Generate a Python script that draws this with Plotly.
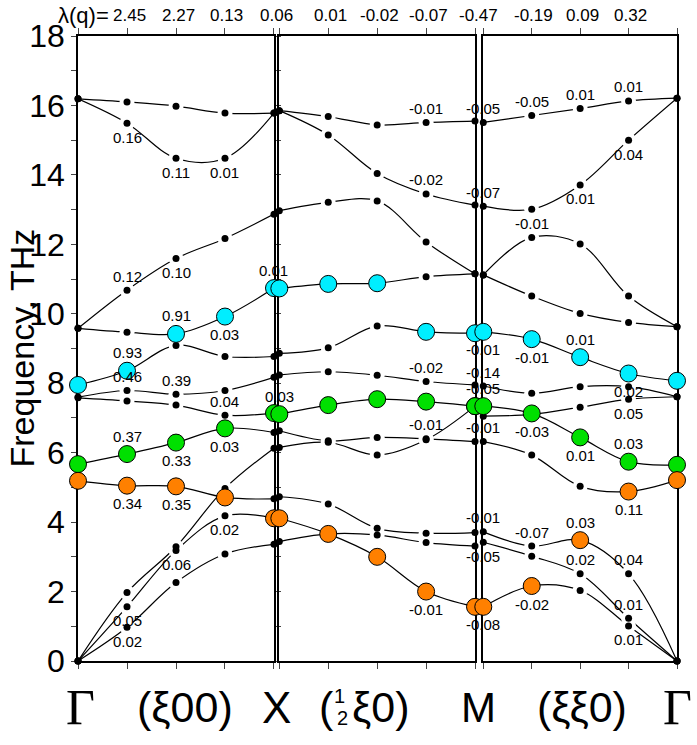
import plotly.graph_objects as go

Q = [0, 1, 2, 3, 4]

# phonon branches, THz, at the five q-points of each segment
gx_freq = [
    [0.00, 0.97, 2.26, 3.08, 3.36],
    [0.00, 1.56, 3.18, 4.18, 4.11],
    [0.00, 1.97, 3.29, 4.97, 6.13],
    [5.19, 5.05, 5.03, 4.71, 4.67],
    [5.67, 5.96, 6.29, 6.70, 6.58],
    [7.58, 7.49, 7.37, 7.08, 7.14],
    [7.60, 7.79, 7.68, 7.79, 8.17],
    [7.95, 8.36, 9.09, 8.77, 8.77],
    [9.58, 9.47, 9.42, 9.92, 10.74],
    [9.58, 10.68, 11.59, 12.17, 12.87],
    [16.19, 15.49, 14.48, 14.48, 15.78],
    [16.19, 16.10, 15.98, 15.78, 15.78],
]
gx_kind = ["kkkkk", "kkkko", "kkkkk", "ooook", "ggggk", "kkkkg",
           "kkkkk", "cckkk", "kkccc", "kkkkk", "kkkkk", "kkkkk"]

xm_freq = [
    [3.44, 3.66, 3.63, 3.41, 3.31],
    [4.11, 3.66, 3.00, 2.00, 1.56],
    [4.73, 4.52, 3.82, 3.68, 3.70],
    [6.15, 6.30, 5.93, 6.37, 7.34],
    [6.63, 6.34, 6.44, 6.40, 6.32],
    [7.11, 7.37, 7.54, 7.47, 7.34],
    [8.24, 8.33, 8.23, 8.05, 7.95],
    [8.86, 9.02, 9.65, 9.48, 9.44],
    [10.73, 10.86, 10.88, 11.07, 11.15],
    [12.97, 13.21, 13.25, 12.07, 11.15],
    [15.85, 15.15, 14.04, 13.45, 13.13],
    [15.85, 15.68, 15.44, 15.51, 15.55],
]
xm_kind = ["kkkkk", "ooooo", "kkkkk", "kkkkg", "kkkkk", "ggggg",
           "kkkkk", "kkkcc", "ccckk", "kkkkk", "kkkkk", "kkkkk"]

mg_freq = [
    [15.51, 15.71, 15.91, 16.13, 16.21],
    [13.10, 13.01, 13.71, 15.00, 16.21],
    [11.12, 12.20, 12.01, 10.51, 9.63],
    [11.12, 10.51, 10.01, 9.75, 9.63],
    [9.48, 9.27, 8.75, 8.28, 8.07],
    [7.92, 7.71, 7.90, 7.90, 7.61],
    [7.05, 7.10, 7.31, 7.54, 7.61],
    [7.34, 7.13, 6.44, 5.74, 5.65],
    [6.32, 5.93, 5.03, 4.88, 5.21],
    [3.72, 3.31, 3.48, 2.51, 0.00],
    [3.42, 3.02, 2.51, 1.23, 0.00],
    [1.56, 2.16, 2.03, 1.01, 0.00],
]
mg_kind = ["kkkkk", "kkkkk", "kkkkk", "kkkkk", "ccccc", "kkkkk",
           "kkkkk", "ggggg", "kkkoo", "kkokk", "kkkkk", "ookkk"]

panels = [(gx_freq, gx_kind), (xm_freq, xm_kind), (mg_freq, mg_kind)]

# mode lambdas: (panel, q, branch, text, side) side 1 = above, -1 = below
mode_lam = [
    (0, 1, 10, "0.16", -1), (0, 2, 10, "0.11", -1), (0, 3, 10, "0.01", -1),
    (0, 1, 9, "0.12", 1), (0, 2, 9, "0.10", -1),
    (0, 2, 8, "0.91", 1), (0, 3, 8, "0.03", -1), (0, 1, 7, "0.93", 1),
    (0, 1, 6, "0.46", 1), (0, 2, 6, "0.39", 1), (0, 3, 5, "0.04", 1),
    (0, 4, 8, "0.01", 1), (1, 0, 5, "0.03", 1),
    (0, 1, 4, "0.37", 1), (0, 2, 4, "0.33", -1), (0, 3, 4, "0.03", -1),
    (0, 1, 3, "0.34", -1), (0, 2, 3, "0.35", -1), (0, 3, 1, "0.02", -1),
    (0, 2, 1, "0.06", -1), (0, 1, 1, "0.05", -1), (0, 1, 0, "0.02", -1),
    (1, 3, 11, "-0.01", 1), (1, 3, 10, "-0.02", 1), (1, 3, 6, "-0.02", 1),
    (1, 3, 4, "-0.01", 1), (1, 3, 1, "-0.01", -1),
    (2, 0, 0, "-0.05", 1), (2, 0, 1, "-0.07", 1), (2, 0, 4, "-0.01", -1),
    (2, 0, 5, "-0.14", 1), (2, 0, 7, "-0.05", 1), (2, 0, 8, "-0.01", 1),
    (2, 0, 9, "-0.01", 1), (2, 0, 10, "-0.05", -1), (2, 0, 11, "-0.08", -1),
    (2, 1, 0, "-0.05", 1), (2, 2, 0, "0.01", 1), (2, 3, 0, "0.01", 1),
    (2, 3, 1, "0.04", -1), (2, 2, 1, "0.01", -1), (2, 1, 2, "-0.01", 1),
    (2, 1, 4, "-0.01", -1), (2, 2, 4, "0.01", 1), (2, 3, 4, "0.02", -1),
    (2, 3, 6, "0.05", -1), (2, 1, 7, "-0.03", -1), (2, 2, 7, "0.01", -1),
    (2, 3, 7, "0.03", 1), (2, 3, 8, "0.11", -1),
    (2, 1, 9, "-0.07", 1), (2, 2, 9, "0.03", 1), (2, 2, 10, "0.02", 1),
    (2, 3, 9, "0.04", 1), (2, 1, 11, "-0.02", -1), (2, 3, 10, "0.01", 1),
    (2, 3, 11, "0.01", -1),
]

# lambda(q) along the top: (panel, q, value)
lam_q = [
    (0, 1, "2.45"), (0, 2, "2.27"), (0, 3, "0.13"), (0, 4, "0.06"),
    (1, 1, "0.01"), (1, 2, "-0.02"), (1, 3, "-0.07"), (1, 4, "-0.47"),
    (2, 1, "-0.19"), (2, 2, "0.09"), (2, 3, "0.32"),
]

COLORS = {"c": "#00eeff", "g": "#00e000", "o": "#ff8000"}
FONT = "Liberation Sans, Arial, sans-serif"
SERIF = "Liberation Serif, serif"
DOMAINS = [[0.0, 0.3272], [0.3361, 0.6628], [0.6766, 1.0]]


def xa(p):
    return "x" if p == 0 else f"x{p + 1}"


fig = go.Figure()

for p, (freqs, kinds) in enumerate(panels):
    for f in freqs:
        fig.add_trace(go.Scatter(
            x=Q, y=f, mode="lines", xaxis=xa(p), yaxis="y",
            line=dict(color="black", width=1.2, shape="spline", smoothing=1),
            hoverinfo="skip", showlegend=False, cliponaxis=False,
        ))
    # white halo leaves the small gaps around inner points
    hx, hy = [], []
    for f, k in zip(freqs, kinds):
        for q in (1, 2, 3):
            if k[q] == "k":
                hx.append(q)
                hy.append(f[q])
    fig.add_trace(go.Scatter(
        x=hx, y=hy, mode="markers", xaxis=xa(p), yaxis="y",
        marker=dict(color="white", size=15), hoverinfo="skip",
        showlegend=False, cliponaxis=False,
    ))
    for kind in "kcgo":
        px_, py_ = [], []
        for f, k in zip(freqs, kinds):
            for q in Q:
                if k[q] == kind:
                    px_.append(q)
                    py_.append(f[q])
        if kind == "k":
            marker = dict(color="black", size=7)
        else:
            marker = dict(color=COLORS[kind], size=17,
                          line=dict(color="black", width=1))
        fig.add_trace(go.Scatter(
            x=px_, y=py_, mode="markers", xaxis=xa(p), yaxis="y",
            marker=marker, hoverinfo="skip", showlegend=False,
            cliponaxis=False,
        ))

annotations = []
for p, q, b, txt, side in mode_lam:
    big = panels[p][1][b][q] != "k"
    off = 18 if big else 14
    annotations.append(dict(
        x=q, y=panels[p][0][b][q], xref=xa(p), yref="y", text=txt,
        showarrow=False, yshift=side * off, font=dict(size=15, family=FONT),
    ))

for p, q, txt in lam_q:
    annotations.append(dict(
        x=q, y=1, xref=xa(p), yref="paper", text=txt, showarrow=False,
        yanchor="middle", yshift=21, xshift=3 if q == 4 else 2,
        font=dict(size=17, family=FONT),
    ))
annotations.append(dict(
    x=0, y=1, xref="paper", yref="paper", text="λ(q)=", showarrow=False,
    xanchor="right", yanchor="middle", xshift=33, yshift=21,
    font=dict(size=22, family=FONT),
))

# y-axis title
annotations.append(dict(
    x=0, y=0.5, xref="paper", yref="paper", text="Frequency, THz",
    showarrow=False, textangle=-90, xshift=-57, xanchor="center",
    yanchor="middle", font=dict(size=34, family=FONT),
))

# path labels under the axes
for p, q, txt, size, fam, dx in [
    (0, 0, "Γ", 50, SERIF, 2),
    (0, 2.18, "(ξ00)", 43, FONT, 0),
    (0, 4, "X", 44, FONT, 3),
    (1, 4, "M", 42, FONT, 3),
    (2, 2.04, "(ξξ0)", 43, FONT, 0),
    (2, 4, "Γ", 50, SERIF, 0),
]:
    annotations.append(dict(
        x=q, y=0, xref=xa(p), yref="paper", text=txt, showarrow=False,
        yanchor="middle", yshift=-46, xshift=dx, font=dict(size=size, family=fam),
    ))
for txt, q, dy, size, anchor in [
    ("(", 1.16, -46, 43, "right"), ("1", 1.22, -35, 20, "center"),
    ("2", 1.3, -57, 20, "center"), ("ξ0)", 1.44, -46, 43, "left"),
]:
    annotations.append(dict(
        x=q, y=0, xref="x2", yref="paper", text=txt, showarrow=False,
        yanchor="middle", yshift=dy, xanchor=anchor,
        font=dict(size=size, family=FONT),
    ))

axis_common = dict(
    range=[0, 4], tickvals=Q, showticklabels=False, ticks="outside",
    ticklen=6, tickwidth=1.3, showline=True, linecolor="black",
    linewidth=1.6, mirror="ticks", showgrid=False, zeroline=False,
    layer="below traces", anchor="y",
)
layout_axes = {}
for p in range(3):
    name = "xaxis" if p == 0 else f"xaxis{p + 1}"
    layout_axes[name] = dict(axis_common, domain=DOMAINS[p])

fig.update_layout(
    **layout_axes,
    yaxis=dict(
        range=[0, 18], tickvals=list(range(19)),
        ticktext=[str(v) if v % 2 == 0 else "" for v in range(19)],
        ticks="outside", ticklen=5, tickwidth=1.3, showline=True,
        linecolor="black", linewidth=1.6, mirror="all", showgrid=False,
        zeroline=False, layer="below traces", anchor="x",
        tickfont=dict(size=32, family=FONT, color="black"),
    ),
    annotations=annotations,
    width=697, height=745,
    margin=dict(l=78, r=20, t=36, b=84),
    plot_bgcolor="white", paper_bgcolor="white",
    font=dict(family=FONT, color="black"),
    showlegend=False,
)

fig.write_html("out.html", config={"displayModeBar": False},
               post_script="document.body.style.margin='0';")
